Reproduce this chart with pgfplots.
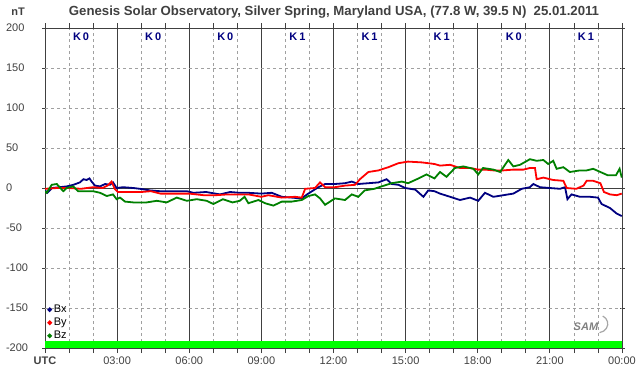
\documentclass[border=0pt]{standalone}
\usepackage{pgfplots}
\pgfplotsset{compat=1.18}
\usepackage{fontspec}
\setmainfont{Liberation Sans}
\definecolor{bxc}{RGB}{0,0,128}
\definecolor{byc}{RGB}{255,0,0}
\definecolor{bzc}{RGB}{0,128,0}
\definecolor{frame}{RGB}{64,64,64}
\definecolor{dgrid}{RGB}{160,160,160}
\definecolor{kbar}{RGB}{0,255,0}
\begin{document}
\begin{tikzpicture}
\useasboundingbox (0pt,-376pt) rectangle (642pt,0pt);
\node[font=\bfseries\fontsize{13.2}{15}\selectfont, text=frame] at (334pt,-12pt) {Genesis Solar Observatory, Silver Spring, Maryland USA, (77.8 W, 39.5 N)\ \ 25.01.2011};
\node[font=\bfseries\fontsize{11}{13}\selectfont, text=frame] at (18pt,-12pt) {nT};
\begin{axis}[
  at={(45pt,-28pt)}, anchor=north west,
  scale only axis, width=577pt, height=320pt,
  xmin=0, xmax=24, ymin=-200, ymax=200,
  axis line style={frame, line width=0.9pt},
  xtick={0,3,...,24},
  xticklabels={\textbf{UTC},03:00,06:00,09:00,12:00,15:00,18:00,21:00,00:00},
  minor xtick={1,2,4,5,7,8,10,11,13,14,16,17,19,20,22,23},
  xmajorgrids, xminorgrids,
  major grid style={frame, line width=0.9pt},
  minor grid style={dgrid, dash pattern=on 3pt off 3pt, line width=0.7pt},
  ytick={-200,-150,...,200},
  yticklabels={-200,-150,-100,-50,0,50,100,150,200},
  tick style={frame, line width=0.8pt},
  xtick align=outside, major tick length=5pt, minor tick length=5pt,
  ytick align=center,
  ticklabel style={font=\fontsize{11}{13}\selectfont, text=frame},
  yticklabel style={anchor=west, xshift=-40pt},
  legend style={at={(0.004,0.017)}, anchor=south west, draw=none, fill=none,
    font=\fontsize{11}{12}\selectfont, row sep=0pt, inner sep=0pt,
    legend cell align=left},
  legend image code/.code={\fill (3pt,0pt) circle (1.3pt);},
  clip=true,
]
\addplot[draw=none, fill=kbar, forget plot] coordinates {(0,-200)(24,-200)(24,-191.5)(0,-191.5)} -- cycle;
\draw[dgrid, dash pattern=on 3pt off 3pt, line width=0.7pt] (axis cs:0,150) -- (axis cs:24,150);
\draw[dgrid, dash pattern=on 3pt off 3pt, line width=0.7pt] (axis cs:0,100) -- (axis cs:24,100);
\draw[dgrid, dash pattern=on 3pt off 3pt, line width=0.7pt] (axis cs:0,50) -- (axis cs:24,50);
\draw[dgrid, dash pattern=on 3pt off 3pt, line width=0.7pt] (axis cs:0,-50) -- (axis cs:24,-50);
\draw[dgrid, dash pattern=on 3pt off 3pt, line width=0.7pt] (axis cs:0,-100) -- (axis cs:24,-100);
\draw[dgrid, dash pattern=on 3pt off 3pt, line width=0.7pt] (axis cs:0,-150) -- (axis cs:24,-150);
\draw[frame, line width=0.9pt] (axis cs:0,0) -- (axis cs:24,0);
\addplot[bxc, line width=1.8pt] coordinates {
(0,-3) (0.1,-6) (0.3,0) (0.6,1) (0.9,2) (1.18,4) (1.45,7) (1.6,11) (1.73,10) (1.85,12) (1.94,8) (2.08,3) (2.29,2) (2.5,5) (2.7,4) (2.83,7) (2.98,0) (3.25,1) (3.67,0) (3.95,-1) (4.37,-3) (4.78,-4) (5.33,-4) (5.9,-4) (6.17,-6) (6.7,-5) (7.28,-8) (7.7,-5) (8.1,-6) (8.46,-6) (9.0,-7) (9.43,-6) (9.85,-11) (10.26,-12) (10.68,-13) (10.9,-8) (11.16,-3) (11.37,1) (11.65,5) (12.06,5) (12.48,6) (12.76,8) (13.03,5) (13.45,6) (13.87,7) (14.21,11) (14.42,5) (14.7,4) (14.98,0) (15.4,-2) (15.74,-11) (15.94,-3) (16.2,-4) (16.43,-7) (16.85,-11) (17.26,-15) (17.68,-12) (18.02,-16) (18.3,-6) (18.65,-11) (19.06,-9) (19.48,-7) (19.83,-1) (20.17,1) (20.31,5) (20.59,1) (21.0,0) (21.42,-1) (21.63,1) (21.73,-14) (21.9,-8) (22.25,-11) (22.67,-11) (23.0,-12) (23.15,-20) (23.5,-25) (23.78,-32) (23.99,-35)
};
\addlegendentry{Bx}
\addplot[byc, line width=1.8pt] coordinates {
(0,-1) (0.5,0) (1.0,0) (1.5,-1) (2.0,1) (2.4,0) (2.6,3) (2.77,8) (2.9,-1) (3.03,-5) (3.3,-5) (4.0,-5) (4.4,-4) (4.8,-7) (5.6,-7) (6.0,-7) (6.6,-9) (7.1,-9) (7.6,-8) (8.1,-8) (8.46,-8) (9.0,-11) (9.29,-9) (9.85,-12) (10.4,-11) (10.68,-12) (10.82,-1) (11.23,0) (11.44,7) (11.65,1) (12.06,1) (12.48,3) (12.9,4) (13.1,11) (13.45,20) (13.87,22) (14.28,26) (14.7,31) (15.1,33) (15.68,32) (16.2,30) (16.43,28) (16.85,29) (17.26,25) (17.68,25) (18.02,23) (18.3,23) (18.65,22) (19.06,22) (19.48,23) (19.9,23) (20.17,25) (20.38,25) (20.45,11) (20.73,13) (21.14,10) (21.56,9) (21.7,0) (22.1,-1) (22.4,3) (22.53,9) (22.8,9) (23.1,6) (23.25,-5) (23.5,-8) (23.78,-9) (23.99,-7)
};
\addlegendentry{By}
\addplot[bzc, line width=1.8pt] coordinates {
(0,-4) (0.07,-6) (0.28,4) (0.49,5) (0.76,-4) (0.9,0) (1.17,2) (1.38,-4) (1.73,-4) (2.0,-4) (2.29,-6) (2.57,-10) (2.83,-8) (2.98,-14) (3.12,-12) (3.33,-17) (3.67,-18) (4.23,-18) (4.65,-16) (5.06,-18) (5.48,-12) (5.9,-16) (6.31,-14) (6.73,-16) (7.0,-20) (7.4,-14) (7.8,-18) (8.1,-16) (8.3,-11) (8.46,-19) (8.88,-15) (9.15,-19) (9.5,-22) (9.85,-17) (10.26,-17) (10.68,-15) (10.96,-10) (11.23,-8) (11.44,-13) (11.65,-21) (12.06,-13) (12.48,-15) (12.76,-8) (13.03,-11) (13.3,-3) (13.7,-1) (14.0,2) (14.42,6) (14.84,8) (15.1,6) (15.54,12) (15.87,17) (16.2,12) (16.43,20) (16.7,14) (17.05,25) (17.4,27) (17.82,24) (18.02,17) (18.22,25) (18.65,23) (18.93,20) (19.27,35) (19.48,27) (19.76,29) (20.17,36) (20.45,34) (20.73,35) (20.93,30) (21.14,34) (21.28,24) (21.56,26) (21.83,20) (22.25,22) (22.53,22) (22.8,24) (23.1,20) (23.4,16) (23.75,16) (23.9,24) (23.99,13)
};
\addlegendentry{Bz}
\foreach \h/\k in {1.5/0,4.5/0,7.5/0,10.5/1,13.5/1,16.5/1,19.5/0,22.5/1} {
  \edef\temp{\noexpand\node[font=\noexpand\bfseries\noexpand\fontsize{11}{13}\noexpand\selectfont, text=bxc] at (axis cs:\h,189) {K\noexpand\,\k};}
  \temp
}
\node[font=\bfseries\itshape\fontsize{11}{13}\selectfont, text=gray] at (axis cs:22.5,-174) {SAM};
\draw[gray!70, line width=1.2pt] (axis cs:23.2,-160) arc[start angle=60, end angle=-80, x radius=10pt, y radius=9pt];
\end{axis}
\end{tikzpicture}
\end{document}
